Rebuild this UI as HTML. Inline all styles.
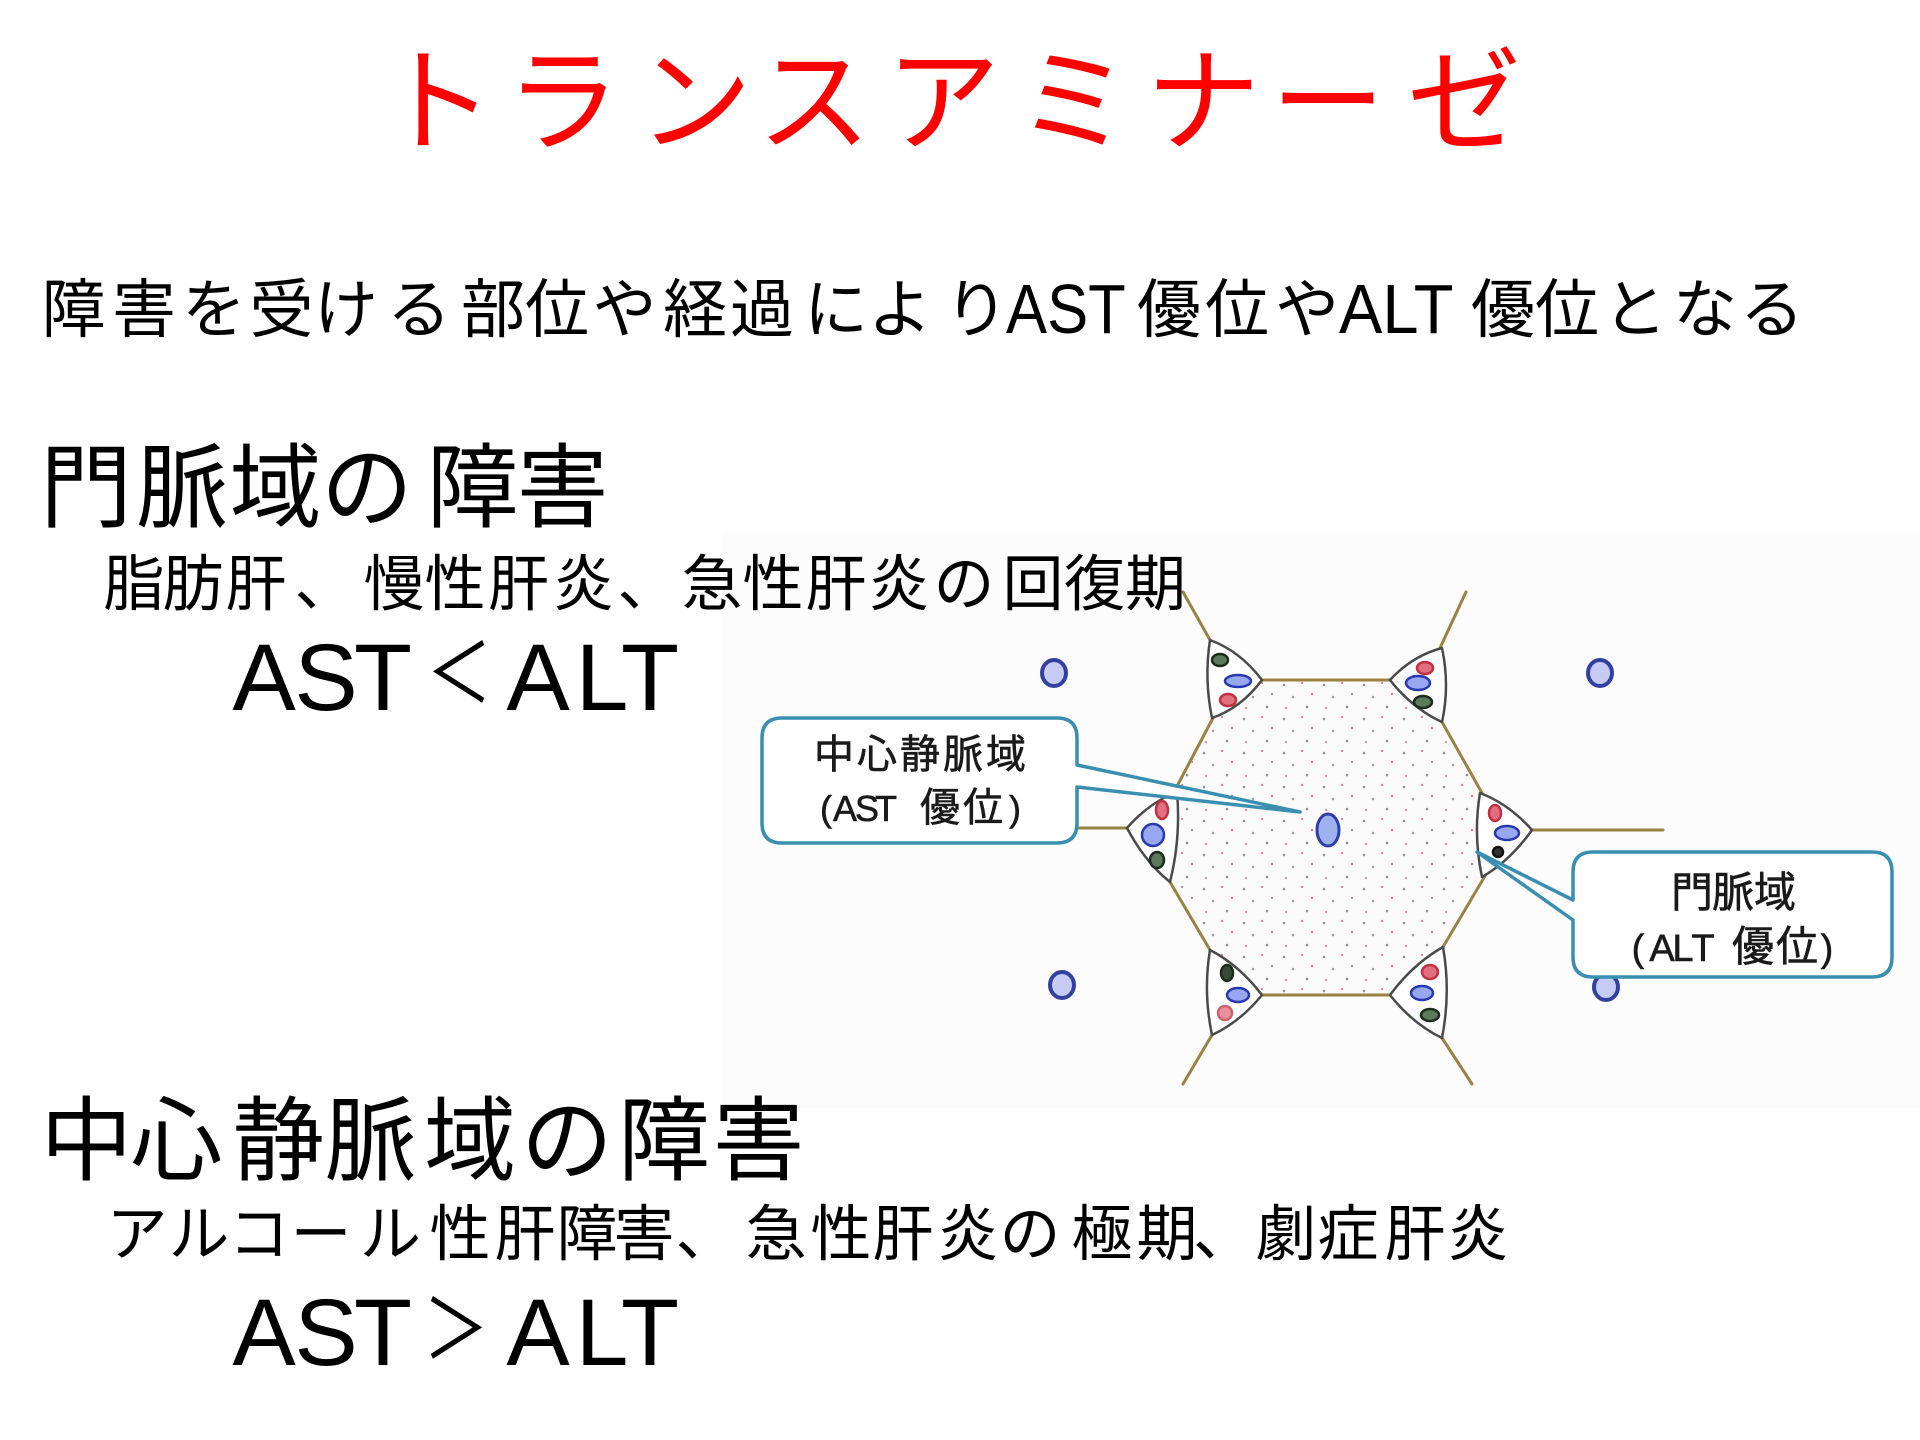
<!DOCTYPE html>
<html>
<head>
<meta charset="utf-8">
<style>
html,body{margin:0;padding:0;background:#fff;}
svg{display:block;}
</style>
</head>
<body>
<svg width="1920" height="1440" viewBox="0 0 1920 1440" xmlns="http://www.w3.org/2000/svg">
<defs>
<pattern id="dots" width="40" height="34" patternUnits="userSpaceOnUse">
<circle cx="4" cy="5" r="1.3" fill="#909090"/>
<circle cx="22" cy="3" r="1.2" fill="#d48a98"/>
<circle cx="13" cy="17" r="1.3" fill="#a0a0a0"/>
<circle cx="32" cy="14" r="1.2" fill="#c8808e"/>
<circle cx="6" cy="28" r="1.2" fill="#d898a6"/>
<circle cx="27" cy="27" r="1.3" fill="#909090"/>
</pattern>
</defs>
<rect x="0" y="0" width="1920" height="1440" fill="#ffffff"/>

<!-- Title -->
<text font-family="'Liberation Sans','Noto Sans CJK JP',sans-serif" font-size="114" fill="#ff0000" text-anchor="middle" x="437 563 695 814 943 1074 1203 1328 1464" y="142">トランスアミナーゼ</text>

<!-- Subtitle line -->
<g font-family="'Liberation Sans','Noto Sans CJK JP',sans-serif" fill="#000">
<text font-size="64" text-anchor="middle" x="73.5 144 214 281.5 346 419 493 557 624.5 695 762 836 900 976.5" y="332">障害を受ける部位や経過により</text>
<text font-size="70" transform="translate(1006,0) scale(0.88,1)" x="0" y="333">AST</text>
<text font-size="64" text-anchor="middle" x="1169 1237 1307" y="332">優位や</text>
<text font-size="70" transform="translate(1339,0) scale(0.93,1)" x="0" y="333">ALT</text>
<text font-size="64" text-anchor="middle" x="1503 1567 1635 1705 1772" y="332">優位となる</text>
</g>

<!-- Diagram background -->
<rect x="723" y="533" width="1197" height="575" fill="#fcfcfc"/>

<!-- Hexagon interior -->
<polygon points="1260,680 1390,680 1442,722 1483,792 1487,875 1443,947 1390,995 1262,995 1210,948 1168,882 1177,793 1213,717" fill="#fafafa"/>
<polygon points="1260,680 1390,680 1442,722 1483,792 1487,875 1443,947 1390,995 1262,995 1210,948 1168,882 1177,793 1213,717" fill="url(#dots)"/>

<!-- Brown lines -->
<g stroke="#9a8242" stroke-width="3" fill="none" stroke-linecap="round">
<line x1="1260" y1="680" x2="1392" y2="680"/>
<line x1="1260" y1="995" x2="1392" y2="995"/>
<line x1="1213" y1="718" x2="1175" y2="790"/>
<line x1="1442" y1="722" x2="1482" y2="793"/>
<line x1="1170" y1="882" x2="1210" y2="950"/>
<line x1="1485" y1="876" x2="1443" y2="947"/>
<line x1="1210" y1="640" x2="1183" y2="592"/>
<line x1="1440" y1="648" x2="1466" y2="592"/>
<line x1="1127" y1="828" x2="1070" y2="828"/>
<line x1="1532" y1="830" x2="1663" y2="830"/>
<line x1="1212" y1="1035" x2="1183" y2="1084"/>
<line x1="1442" y1="1038" x2="1472" y2="1084"/>
</g>

<!-- Portal clusters (rounded triangles) -->
<g stroke="#4a4a4a" stroke-width="2.5" fill="#ffffff" stroke-linejoin="round">
<path d="M1210,640 Q1240,651 1262,680 Q1241,708 1212,718 Q1204,679 1210,640 Z"/>
<path d="M1442,648 Q1412,656 1390,680 Q1412,708 1442,722 Q1450,686 1442,648 Z"/>
<path d="M1177,792 Q1150,802 1127,828 Q1145,862 1170,882 Q1181,838 1177,792 Z"/>
<path d="M1480,793 Q1509,804 1532,830 Q1510,861 1482,877 Q1473,835 1480,793 Z"/>
<path d="M1210,950 Q1239,965 1262,995 Q1240,1022 1212,1035 Q1203,992 1210,950 Z"/>
<path d="M1443,947 Q1413,964 1390,995 Q1413,1024 1442,1038 Q1451,992 1443,947 Z"/>
</g>

<!-- Cluster vessels -->
<g stroke-width="2.5">
<!-- UL -->
<ellipse cx="1220" cy="660" rx="8" ry="6" fill="#5a7a5a" stroke="#1c2c1c"/>
<ellipse cx="1238" cy="681" rx="13" ry="6" fill="#98a8f0" stroke="#2838b0"/>
<ellipse cx="1228" cy="700" rx="8" ry="6" fill="#e07080" stroke="#c03040"/>
<!-- UR -->
<ellipse cx="1425" cy="668" rx="8" ry="6" fill="#e07080" stroke="#c03040"/>
<ellipse cx="1418" cy="683" rx="12" ry="7" fill="#98a8f0" stroke="#2838b0"/>
<ellipse cx="1423" cy="702" rx="9" ry="6" fill="#5a7a5a" stroke="#1c2c1c"/>
<!-- L -->
<ellipse cx="1162" cy="810" rx="6" ry="9" fill="#e07080" stroke="#c03040"/>
<ellipse cx="1153" cy="835" rx="11" ry="11" fill="#98a8f0" stroke="#2838b0"/>
<ellipse cx="1157" cy="860" rx="7" ry="8" fill="#5a7a5a" stroke="#1c2c1c"/>
<!-- R -->
<ellipse cx="1495" cy="813" rx="6" ry="8" fill="#e07080" stroke="#c03040"/>
<ellipse cx="1507" cy="833" rx="12" ry="7" fill="#98a8f0" stroke="#2838b0"/>
<ellipse cx="1498" cy="852" rx="5" ry="5" fill="#333" stroke="#111"/>
<!-- BL -->
<ellipse cx="1227" cy="973" rx="6" ry="8" fill="#3a4a3a" stroke="#1c2c1c"/>
<ellipse cx="1238" cy="995" rx="11" ry="7" fill="#98a8f0" stroke="#2838b0"/>
<ellipse cx="1225" cy="1013" rx="7" ry="7" fill="#e890a0" stroke="#d06070"/>
<!-- BR -->
<ellipse cx="1430" cy="972" rx="8" ry="7" fill="#e07080" stroke="#c03040"/>
<ellipse cx="1422" cy="993" rx="11" ry="7" fill="#98a8f0" stroke="#2838b0"/>
<ellipse cx="1430" cy="1015" rx="9" ry="6" fill="#5a7a5a" stroke="#1c2c1c"/>
</g>

<!-- Central vein and neighboring veins -->
<ellipse cx="1328" cy="830" rx="11" ry="16" fill="#9fb0ee" stroke="#2f3ea8" stroke-width="3"/>
<g fill="#c5cbf2" stroke="#3340a0" stroke-width="4">
<ellipse cx="1054" cy="673" rx="12" ry="13"/>
<ellipse cx="1600" cy="673" rx="12" ry="13"/>
<ellipse cx="1062" cy="985" rx="12" ry="13"/>
<ellipse cx="1606" cy="987" rx="12" ry="13"/>
</g>

<!-- Left callout -->
<path d="M782,718 L1057,718 Q1077,718 1077,738 L1077,765 L1300,812 L1077,787 L1077,823 Q1077,843 1057,843 L782,843 Q762,843 762,823 L762,738 Q762,718 782,718 Z" fill="#ffffff" stroke="#3a8fb0" stroke-width="3.5" stroke-linejoin="round"/>
<g font-family="'Liberation Sans','Noto Sans CJK JP',sans-serif" fill="#1a1a1a" stroke="#1a1a1a" stroke-width="0.6">
<text font-size="40" text-anchor="middle" x="834 877 920 963 1006" y="768">中心静脈域</text>
<text font-size="40" text-anchor="middle" x="826 845 867 886 940 983 1015" y="821"><tspan font-size="36">(AST</tspan>優位<tspan font-size="36">)</tspan></text>
</g>

<!-- Right callout -->
<path d="M1593,852 L1872,852 Q1892,852 1892,872 L1892,957 Q1892,977 1872,977 L1593,977 Q1573,977 1573,957 L1573,920 L1477,852 L1573,900 L1573,872 Q1573,852 1593,852 Z" fill="#ffffff" stroke="#3a8fb0" stroke-width="3.5" stroke-linejoin="round"/>
<g font-family="'Liberation Sans','Noto Sans CJK JP',sans-serif" fill="#1a1a1a" stroke="#1a1a1a" stroke-width="0.6">
<text font-size="42" text-anchor="middle" x="1692 1733 1775" y="907">門脈域</text>
<text font-size="42" text-anchor="middle" x="1638 1662 1683 1703 1753 1797 1827" y="961"><tspan font-size="38">(ALT</tspan>優位<tspan font-size="38">)</tspan></text>
</g>

<!-- Section 1 -->
<g font-family="'Liberation Sans','Noto Sans CJK JP',sans-serif" fill="#000">
<text font-size="92" text-anchor="middle" x="86 182 275.5 367 472.5 562.5" y="520">門脈域の障害</text>
<text font-size="61" text-anchor="middle" x="134 193 256 325 394 455 518.5 583.5 648 712 773 836 899 964 1033 1094.5 1155.5" y="605">脂肪肝、慢性肝炎、急性肝炎の回復期</text>
<text font-size="95" text-anchor="middle" x="264 326 383" y="710">AST</text>
<text font-size="81" text-anchor="middle" transform="translate(459,0) scale(0.81,1)" x="0" y="702">＜</text>
<text font-size="95" text-anchor="middle" x="538 602 650" y="710">ALT</text>

<!-- Section 2 -->
<text font-size="92" text-anchor="middle" x="86.5 176.5 278.5 370.5 470 567 664 758.5" y="1173">中心静脈域の障害</text>
<text font-size="61" text-anchor="middle" x="137 199 259 321 390.5 460 525 587 644 706 776 841 903 968 1030 1102 1167 1223.5 1286 1348 1415 1478" y="1255">アルコール性肝障害、急性肝炎の極期、劇症肝炎</text>
<text font-size="95" text-anchor="middle" x="264 326 383" y="1365">AST</text>
<text font-size="81" text-anchor="middle" transform="translate(456,0) scale(0.81,1)" x="0" y="1358">＞</text>
<text font-size="95" text-anchor="middle" x="538 602 650" y="1365">ALT</text>
</g>
</svg>
</body>
</html>
